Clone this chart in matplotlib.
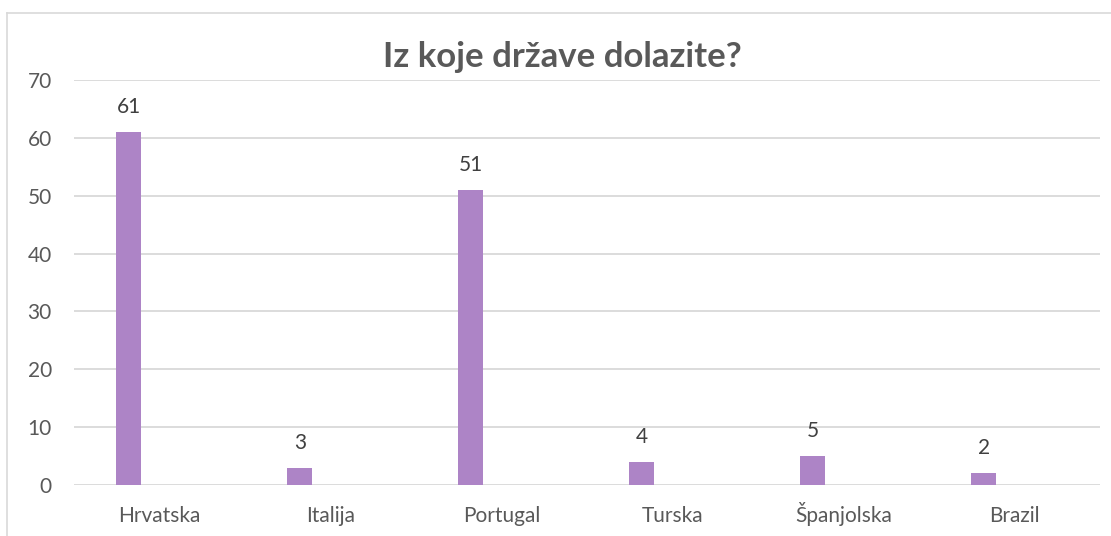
import matplotlib
matplotlib.use("Agg")
import matplotlib.pyplot as plt
from matplotlib.lines import Line2D

categories = ["Hrvatska", "Italija", "Portugal", "Turska", "Španjolska", "Brazil"]
values = [61, 3, 51, 4, 5, 2]
yticks = [0, 10, 20, 30, 40, 50, 60, 70]
title = "Iz koje države dolazite?"

plt.rcParams['font.family'] = ['Lato', 'DejaVu Sans']

W, H = 1111, 536
fig = plt.figure(figsize=(W / 100, H / 100), dpi=100)
fig.patch.set_facecolor("white")

# outer chart border (top/left visible)
fig.add_artist(Line2D([7 / W, 7 / W], [0, 1 - 13 / H], transform=fig.transFigure,
                      color="#d9d9d9", linewidth=1.2))
fig.add_artist(Line2D([7 / W, 1], [1 - 13 / H, 1 - 13 / H], transform=fig.transFigure,
                      color="#d9d9d9", linewidth=1.2))

left, right = 74 / W, 1100 / W
bottom, top = 1 - 485 / H, 1 - 80 / H
ax = fig.add_axes([left, bottom, right - left, top - bottom])

x = list(range(len(categories)))
xb = [i - 0.18 for i in x]
ax.bar(xb, values, width=0.146, color="#ad84c6", zorder=3)

ax.set_xlim(-0.5, len(categories) - 0.5)
ax.set_ylim(0, 70)
ax.set_yticks(yticks)
ax.set_yticklabels([str(t) for t in yticks], fontsize=15, color="#595959")
ax.set_xticks(x)
ax.set_xticklabels(categories, fontsize=15, color="#595959")
for lab in ax.get_xticklabels():
    lab.set_verticalalignment("baseline")
ax.tick_params(axis="both", length=0)
ax.tick_params(axis="y", pad=16)
ax.tick_params(axis="x", pad=27)

for s in ax.spines.values():
    s.set_visible(False)
ax.grid(axis="y", color="#d9d9d9", linewidth=1.3, zorder=0)
ax.set_axisbelow(True)

for xi, v in zip(xb, values):
    ax.annotate(str(v), (xi, v), xytext=(0, 18), textcoords="offset points",
                ha="center", va="center", fontsize=15, color="#404040")

fig.text(562 / W, 1 - 57 / H, title, ha="center", va="center", fontsize=25,
         fontweight="bold", color="#595959")

fig.savefig("out.png", dpi=100, facecolor="white")
